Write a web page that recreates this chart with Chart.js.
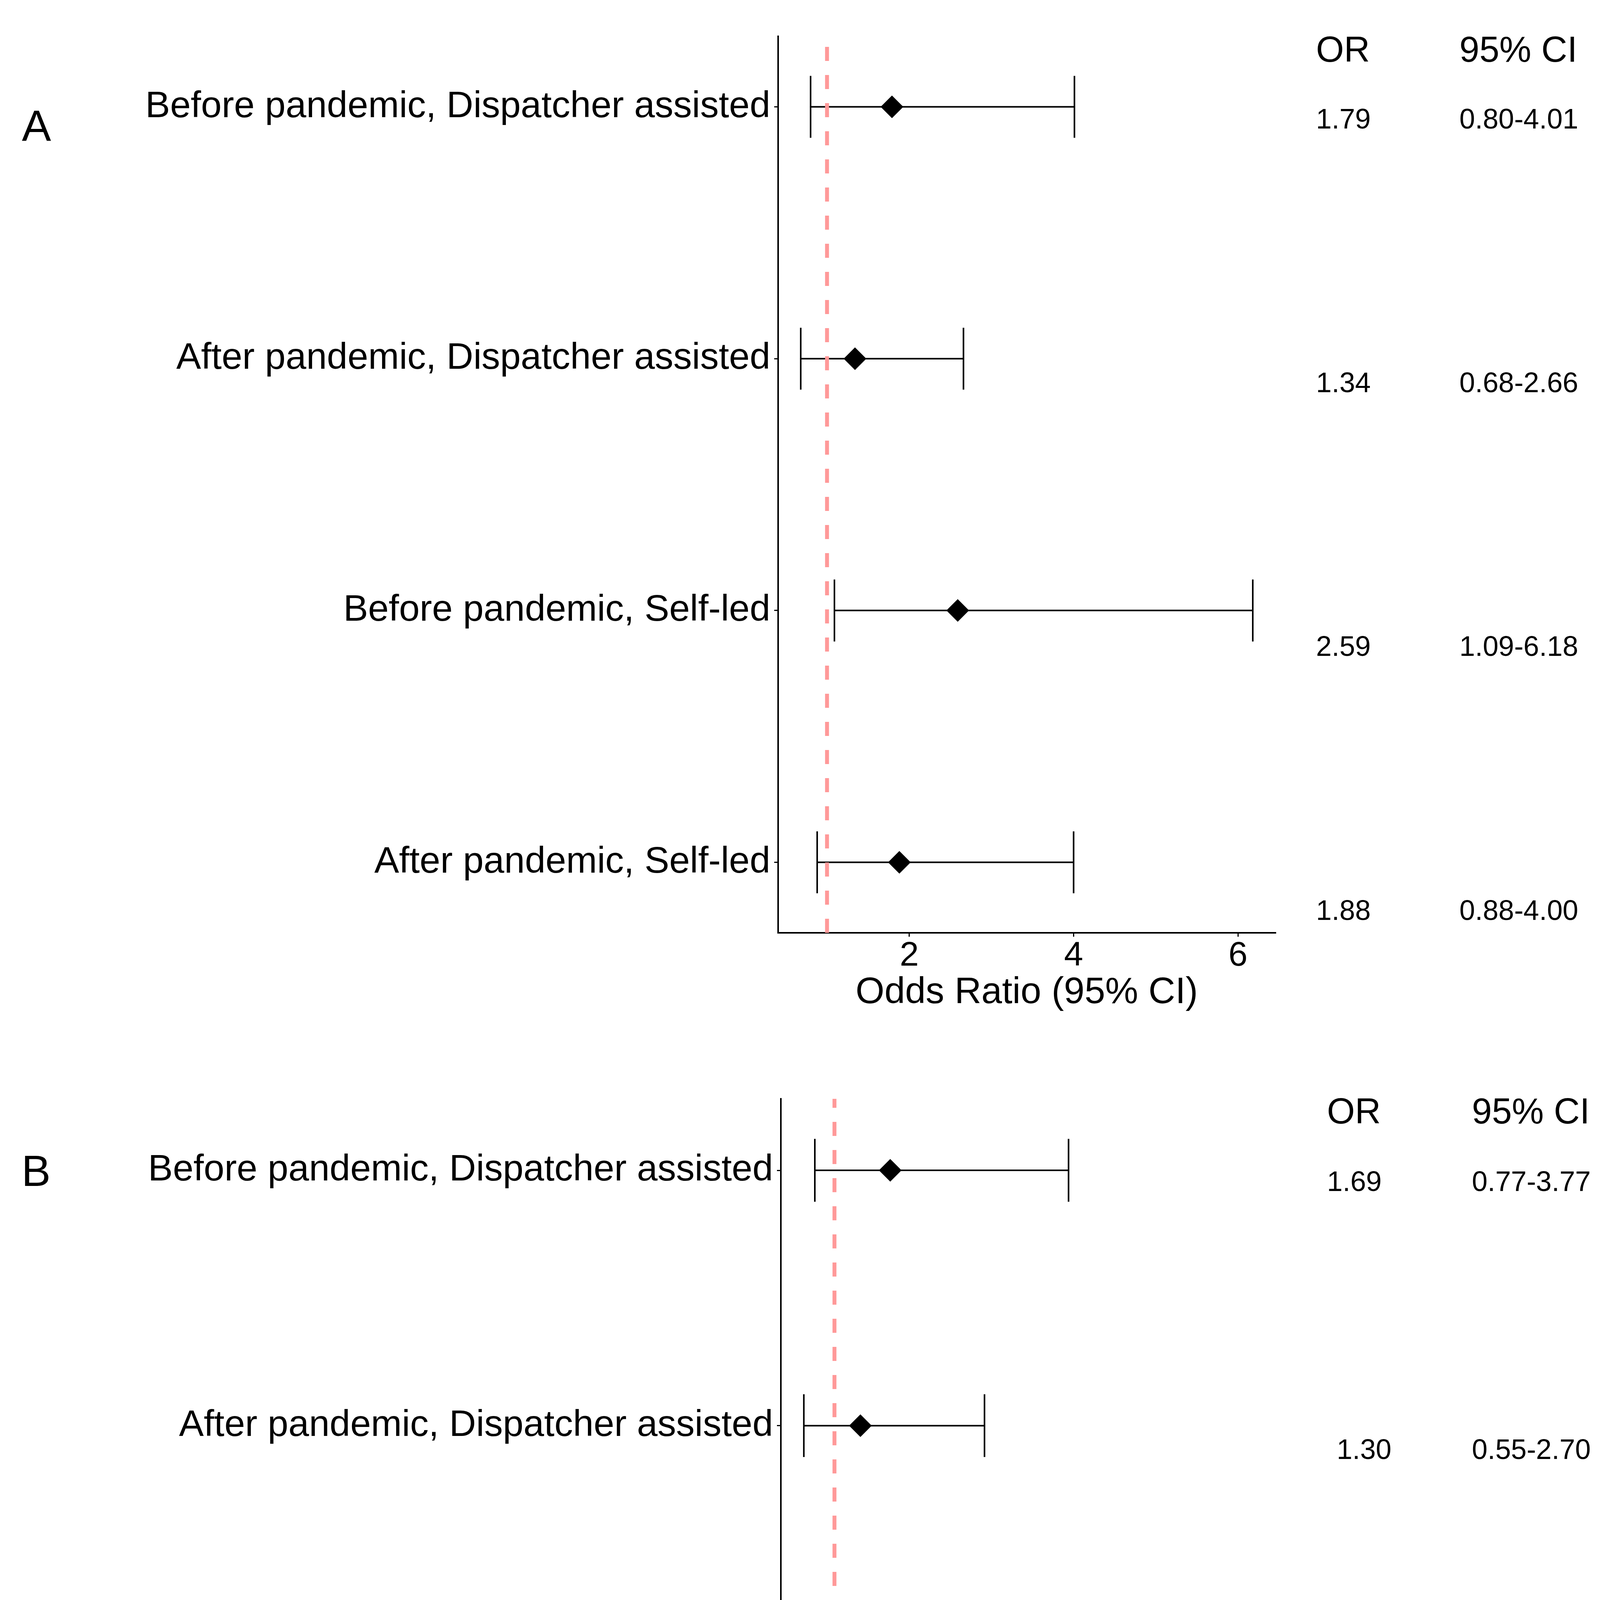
<!DOCTYPE html>
<html>
<head>
<meta charset="utf-8">
<title>Forest plot</title>
<script src="https://cdn.jsdelivr.net/npm/chart.js@4.4.1/dist/chart.umd.min.js"></script>
<style>
  html, body { margin: 0; padding: 0; background: #fff; }
  #page { position: relative; width: 4162px; height: 5402px; overflow: hidden;
          font-family: "Liberation Sans", Arial, sans-serif; color: #000; }
  #page canvas { position: absolute; left: 0; }
  .txt { position: absolute; line-height: 1; white-space: nowrap; transform: translateY(-50%); }
</style>
</head>
<body>
<div id="page">
  <canvas id="chartA" width="3330" height="2700" style="top:0px"></canvas>
  <canvas id="chartB" width="3330" height="2702" style="top:2700px"></canvas>
</div>
<script>
const FONT = '"Liberation Sans", Arial, sans-serif';

// Rows, top to bottom
const rowLabels = [
    'Before pandemic, Dispatcher assisted',
    'After pandemic, Dispatcher assisted',
    'Before pandemic, Self-led',
    'After pandemic, Self-led'
];
const xTicks = [2, 4, 6];
const refValue = 1;

// Panel A (drawn marks)
const orA = [1.79, 1.34, 2.59, 1.88];
const lowerA = [0.80, 0.68, 1.09, 0.88];
const upperA = [4.01, 2.66, 6.18, 4.00];

// Panel B (drawn marks)
const orB = [1.71, 1.33, 2.60, 1.69];
const lowerB = [0.75, 0.61, 1.05, 0.72];
const upperB = [3.98, 2.91, 6.46, 4.06];

// Printed table columns
const orTextA = ['1.79', '1.34', '2.59', '1.88'];
const ciTextA = ['0.80-4.01', '0.68-2.66', '1.09-6.18', '0.88-4.00'];
const orTextB = ['1.69', '1.30', '2.58', '1.67'];
const ciTextB = ['0.77-3.77', '0.55-2.70', '1.14-6.20', '0.71-4.11'];

// Error bars + OR = 1 reference line
const forestPlugin = {
    id: 'forest',
    beforeDatasetsDraw(chart, args, opts) {
        const { ctx, chartArea, scales: { x, y } } = chart;
        ctx.save();
        ctx.strokeStyle = '#000';
        ctx.lineWidth = 4;
        opts.lower.forEach((lo, i) => {
            const row = i + 1;
            const py = y.getPixelForValue(row);
            const cap = Math.abs(y.getPixelForValue(row + 0.123) - py);
            const x1 = x.getPixelForValue(lo);
            const x2 = x.getPixelForValue(opts.upper[i]);
            ctx.beginPath();
            ctx.moveTo(x1, py); ctx.lineTo(x2, py);
            ctx.moveTo(x1, py - cap); ctx.lineTo(x1, py + cap);
            ctx.moveTo(x2, py - cap); ctx.lineTo(x2, py + cap);
            ctx.stroke();
        });

        const rx = x.getPixelForValue(refValue);
        ctx.strokeStyle = '#FF9999';
        ctx.lineWidth = 10;
        ctx.setLineDash([36, 36]);
        ctx.beginPath();
        ctx.moveTo(rx, chartArea.bottom);
        ctx.lineTo(rx, chartArea.top);
        ctx.stroke();
        ctx.restore();
    }
};

function makeForest(canvasId, or, lower, upper, box) {
    const lo = Math.min(...lower);
    const hi = Math.max(...upper);
    const pad = (hi - lo) * 0.05;
    const rows = rowLabels.map((_, i) => i + 1);
    const axisGrid = { drawOnChartArea: false, drawTicks: true, tickLength: 10, color: '#000', lineWidth: 3 };
    const axisBorder = { display: true, color: '#000', width: 4 };

    return new Chart(document.getElementById(canvasId), {
        type: 'scatter',
        data: {
            datasets: [{
                data: or.map((v, i) => ({ x: v, y: rows[i] })),
                pointStyle: 'rectRot',
                pointRadius: 29,
                pointHoverRadius: 29,
                backgroundColor: '#000',
                borderWidth: 0
            }]
        },
        options: {
            responsive: false,
            animation: false,
            devicePixelRatio: 1,
            events: [],
            layout: { padding: { top: box.top, right: box.right, left: 0, bottom: 0 } },
            plugins: {
                legend: { display: false },
                tooltip: { enabled: false },
                forest: { lower: lower, upper: upper }
            },
            scales: {
                x: {
                    type: 'linear',
                    min: lo - pad,
                    max: hi + pad,
                    afterBuildTicks: s => { s.ticks = xTicks.map(v => ({ value: v })); },
                    afterFit: s => { s.height = box.xAxisH; },
                    ticks: { font: { size: 88, family: FONT, lineHeight: 1 }, color: '#000', padding: 6 },
                    grid: axisGrid,
                    border: axisBorder,
                    title: {
                        display: true,
                        text: 'Odds Ratio (95% CI)',
                        color: '#000',
                        font: { size: 95, family: FONT, lineHeight: 1 },
                        padding: { top: 0, bottom: box.titlePad }
                    }
                },
                y: {
                    type: 'linear',
                    reverse: true,
                    min: 0.72,
                    max: 4.28,
                    afterBuildTicks: s => { s.ticks = rows.map(v => ({ value: v })); },
                    afterFit: s => { s.width = box.yAxisW; },
                    ticks: {
                        font: { size: 95, family: FONT, lineHeight: 1 },
                        color: '#000',
                        padding: 10,
                        callback: v => rowLabels[v - 1]
                    },
                    grid: axisGrid,
                    border: axisBorder
                }
            }
        },
        plugins: [forestPlugin]
    });
}

makeForest('chartA', orA, lowerA, upperA, { top: 93, right: 65, yAxisW: 1992, xAxisH: 312, titlePad: 111 });
makeForest('chartB', orB, lowerB, upperB, { top: 113, right: 37, yAxisW: 1999, xAxisH: 262, titlePad: 55 });

// Panel letters and the OR / CI table
const page = document.getElementById('page');
function addText(text, left, cy, size) {
    const d = document.createElement('div');
    d.className = 'txt';
    d.textContent = text;
    d.style.left = left + 'px';
    d.style.top = cy + 'px';
    d.style.fontSize = size + 'px';
    page.appendChild(d);
}

function addTable(orText, ciText, t) {
    addText('OR', t.orX, t.headY, 92);
    addText('95% CI', t.ciX, t.headY, 92);
    orText.forEach((s, i) => {
        addText(s, t.orX + (t.orShift[i] || 0), t.rowY[i], 72);
        addText(ciText[i], t.ciX, t.rowY[i], 72);
    });
}

addText('A', 56, 322, 112);
addText('B', 55, 2998, 112);
addTable(orTextA, ciTextA, { orX: 3369, ciX: 3736, headY: 126, rowY: [304, 979, 1654, 2330], orShift: [] });
addTable(orTextB, ciTextB, { orX: 3397, ciX: 3768, headY: 2844, rowY: [3024, 3710, 4396, 5082], orShift: [0, 25, 0, 0] });
</script>
</body>
</html>
